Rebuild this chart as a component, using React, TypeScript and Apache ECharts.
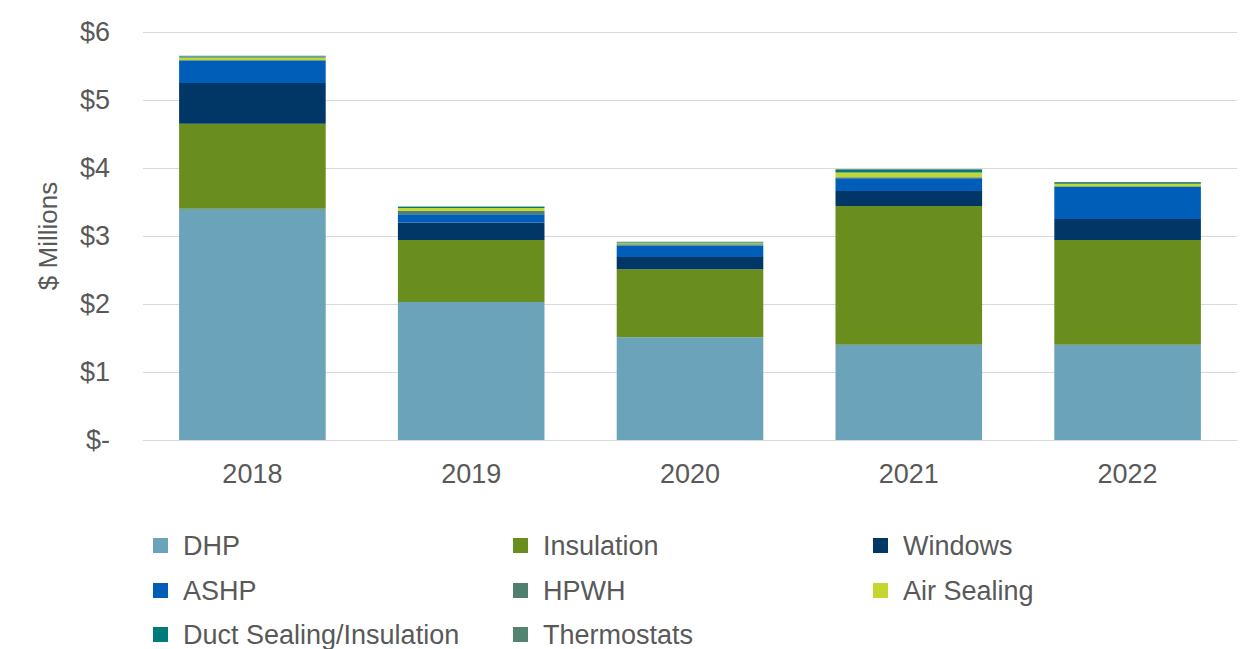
import React, { useEffect, useRef } from "react";
import * as echarts from "echarts";

const years = ["2018", "2019", "2020", "2021", "2022"];
const seriesNames = ["DHP", "Insulation", "Windows", "ASHP", "HPWH", "Air Sealing", "Duct Sealing/Insulation", "Thermostats"];
const colors = ["#6BA4BA", "#6A8E1E", "#003767", "#005EB8", "#4F7F6E", "#C4D630", "#007A7A", "#528571"];
const dhp = [3.40, 2.03, 1.51, 1.40, 1.40];
const insulation = [1.25, 0.91, 1.00, 2.04, 1.54];
const windows = [0.60, 0.26, 0.18, 0.22, 0.31];
const ashp = [0.33, 0.12, 0.17, 0.19, 0.47];
const hpwh = [0.01, 0.05, 0.02, 0.015, 0.01];
const airSealing = [0.035, 0.04, 0.015, 0.07, 0.04];
const ductSealing = [0.015, 0.015, 0.01, 0.04, 0.01];
const thermostats = [0.01, 0.01, 0.01, 0.01, 0.015];
const yTicks = [0, 1, 2, 3, 4, 5, 6];

const values = [dhp, insulation, windows, ashp, hpwh, airSealing, ductSealing, thermostats];
const legendPos: [number, number][] = [
  [153, 545], [513, 545], [873, 545],
  [153, 590], [513, 590], [873, 590],
  [153, 634], [513, 634],
];

export default function App() {
  const ref = useRef<HTMLDivElement>(null);
  useEffect(() => {
    if (!ref.current) return;
    const chart = echarts.init(ref.current, null, { renderer: "svg" });
    const font = "'Liberation Sans', Arial, sans-serif";
    chart.setOption({
      animation: false,
      textStyle: { fontFamily: font },
      grid: { left: 143, right: 15, top: 32, bottom: 209 },
      xAxis: {
        type: "category",
        data: years,
        axisTick: { show: false },
        axisLine: { lineStyle: { color: "#d9d9d9", width: 1 } },
        axisLabel: { color: "#595959", fontSize: 27, margin: 20, fontFamily: font },
      },
      yAxis: {
        type: "value",
        min: yTicks[0],
        max: yTicks[yTicks.length - 1],
        interval: 1,
        name: "$ Millions",
        nameLocation: "middle",
        nameGap: 82,
        nameTextStyle: { color: "#595959", fontSize: 26, fontFamily: font },
        splitLine: { lineStyle: { color: "#d9d9d9" } },
        axisLabel: {
          color: "#595959",
          fontSize: 27,
          margin: 33,
          fontFamily: font,
          formatter: (v: number) => (v === 0 ? "$-" : "$" + v),
        },
      },
      legend: seriesNames.map((n, i) => ({
        data: [n],
        left: legendPos[i][0] - 5,
        top: legendPos[i][1] - 18,
        itemWidth: 15,
        itemHeight: 15,
        icon: "rect",
        selectedMode: false,
        textStyle: { color: "#595959", fontSize: 27, fontFamily: font, padding: [0, 0, 0, 10] },
      })),
      series: seriesNames.map((n, i) => ({
        name: n,
        type: "bar",
        stack: "total",
        barWidth: "67%",
        itemStyle: { color: colors[i] },
        data: values[i],
      })),
    });
    return () => chart.dispose();
  }, []);
  return <div ref={ref} style={{ position: "absolute", left: 0, top: 0, width: 1252, height: 649 }} />;
}
